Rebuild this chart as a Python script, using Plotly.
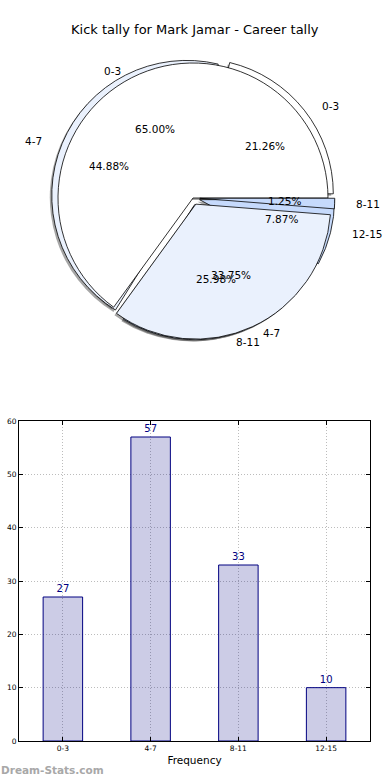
import math
import plotly.graph_objects as go

title = "Kick tally for Mark Jamar - Career tally"
categories = ["0-3", "4-7", "8-11", "12-15"]
career_counts = [27, 57, 33, 10]
second_labels = ["0-3", "4-7", "8-11"]
second_counts = [52, 27, 1]
slice_colors = ["#ffffff", "#eaf1fd", "#c6dafc", "#c6dafc"]
pull_a = [0.05, 0.05, 0.05, 0.05]
pull_b = [0.0, 0.05, 0.05]
watermark = "Dream-Stats.com"
x_title = "Frequency"

W, H = 390, 780
CX, CY, R = 193, 198, 135
TX, TY = 1.04, 0.96   # text spread (reference pie is slightly elliptical)
MAXPULL = 0.05
HALF = R * (1 + MAXPULL)
FONT = "DejaVu Sans"


def dom(dx=0.0, dy=0.0):
    return dict(x=[(CX - HALF + dx) / W, (CX + HALF + dx) / W],
                y=[1 - (CY + HALF + dy) / H, 1 - (CY - HALF + dy) / H])


def start_rotation(values):
    # plotly counterclockwise pies put the first slice clockwise of `rotation`;
    # matplotlib starts the first slice at 3 o'clock going counterclockwise
    return 90 - 360.0 * values[0] / sum(values)


def pie(labels, values, pulls, colors, line, dx=0.0, dy=0.0):
    return go.Pie(labels=labels, values=values, sort=False,
                  direction="counterclockwise", rotation=start_rotation(values),
                  pull=pulls, marker=dict(colors=colors, line=line),
                  textinfo="none", hoverinfo="label+percent",
                  domain=dom(dx, dy), showlegend=False)


fig = go.Figure()
shadow = ["rgba(0,0,0,0.35)"] * 4
nol = dict(color="rgba(0,0,0,0)", width=0)
fig.add_trace(pie(categories, career_counts, pull_a, shadow, nol, -2, 2))
fig.add_trace(pie(second_labels, second_counts, pull_b, shadow, nol, -2, 2))
edge = dict(color="black", width=0.8)
fig.add_trace(pie(categories, career_counts, pull_a, slice_colors, edge))
fig.add_trace(pie(second_labels, second_counts, pull_b, slice_colors[:3], edge))

annotations = []


def pie_text(labels, values, pulls):
    total = float(sum(values))
    cum = 0.0
    for lab, v, p in zip(labels, values, pulls):
        frac = v / total
        mid = 2 * math.pi * (cum + frac / 2)
        cum += frac
        c, s = math.cos(mid), math.sin(mid)
        lx = CX + (p + 1.1) * R * TX * c
        ly = CY - (p + 1.1) * R * TY * s
        annotations.append(dict(x=lx / W, y=1 - ly / H, xref="paper", yref="paper",
                                text=lab, showarrow=False,
                                xanchor="left" if c > 0 else "right", yanchor="middle",
                                font=dict(family=FONT, size=10.5, color="black")))
        px = CX + (p + 0.6) * R * TX * c
        py = CY - (p + 0.6) * R * TY * s
        annotations.append(dict(x=px / W, y=1 - py / H, xref="paper", yref="paper",
                                text=f"{100 * frac:.2f}%", showarrow=False,
                                xanchor="center", yanchor="middle",
                                font=dict(family=FONT, size=10.5, color="black")))


pie_text(categories, career_counts, pull_a)
pie_text(second_labels, second_counts, pull_b)

fig.add_trace(go.Bar(x=categories, y=career_counts, width=0.45,
                     marker=dict(color="rgba(0,0,128,0.2)",
                                 line=dict(color="#000080", width=1)),
                     text=[str(v) for v in career_counts], textposition="outside",
                     textfont=dict(family=FONT, size=10, color="#000080"),
                     cliponaxis=False, showlegend=False,
                     xaxis="x", yaxis="y"))

annotations.append(dict(x=0.5, y=1 - 30 / H, xref="paper", yref="paper",
                        text=title, showarrow=False, xanchor="center", yanchor="middle",
                        font=dict(family=FONT, size=13, color="black")))
annotations.append(dict(x=-0.003, y=1 - 770 / H, xref="paper", yref="paper",
                        text=f"<b>{watermark}</b>", showarrow=False,
                        xanchor="left", yanchor="middle",
                        font=dict(family=FONT, size=10.5, color="#a8a8a8")))

axis_common = dict(showline=True, linecolor="black", linewidth=1, mirror="ticks",
                   ticks="inside", ticklen=4, tickcolor="black",
                   showgrid=True, gridcolor="#bcbcbc", griddash="1px,2px", gridwidth=1,
                   zeroline=False, automargin=False,
                   tickfont=dict(family=FONT, size=7.5, color="black"))

fig.update_layout(
    width=W, height=H,
    margin=dict(l=0, r=0, t=0, b=0),
    paper_bgcolor="white", plot_bgcolor="white",
    annotations=annotations,
    xaxis=dict(domain=[19 / W, 370 / W], type="category",
               range=[-0.5, 3.5],
               title=dict(text=x_title, font=dict(family=FONT, size=10.5, color="black"),
                          standoff=4),
               **axis_common),
    yaxis=dict(domain=[1 - 741 / H, 1 - 421 / H], range=[0, 60], dtick=10,
               **axis_common),
    font=dict(family=FONT),
)

fig.write_html("out.html", config={"displayModeBar": False},
               post_script="document.body.style.margin='0';document.body.style.overflow='hidden';")
